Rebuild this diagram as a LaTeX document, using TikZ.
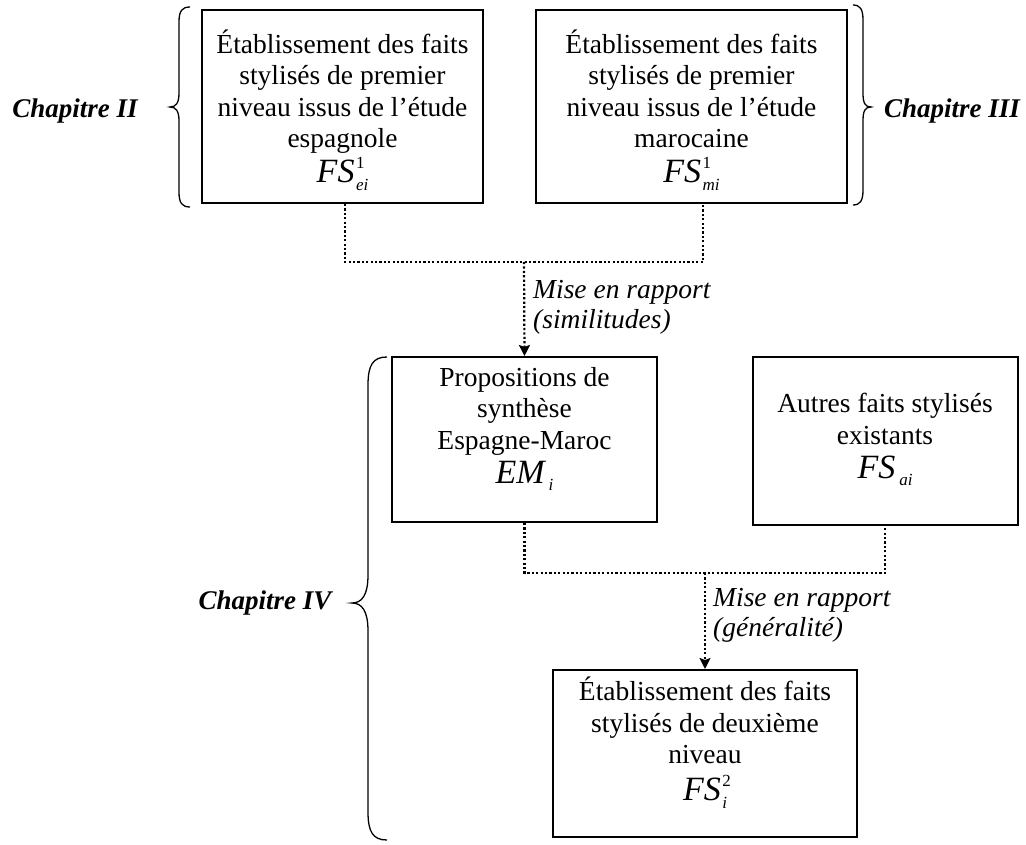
\documentclass[tikz,border=0pt]{standalone}
\usepackage{fontspec}
\setmainfont{Liberation Serif}
\usetikzlibrary{arrows.meta}
\newcommand\mfs[3]{{\fontsize{34}{34}\selectfont\itshape #1}\kern1.5pt\rlap{\raisebox{14pt}{\fontsize{17}{17}\selectfont #2}}\raisebox{-8pt}{\fontsize{17}{17}\selectfont\itshape #3}}
\newcommand\msub[2]{{\fontsize{34}{34}\selectfont\itshape #1}\kern4pt\raisebox{-7pt}{\fontsize{17}{17}\selectfont\itshape #2}}
\newcommand\topstrut{\rule{0pt}{31pt}}
\newcommand\botstrut[1]{\rule[-#1]{0pt}{1pt}}
\tikzset{
  box/.style={draw, line width=2pt, align=center, inner sep=0pt,
    font=\fontsize{27.5}{31.5}\selectfont},
  dotline/.style={line width=2.2pt, dash pattern=on 2.2pt off 2.2pt},
  dotarrow/.style={dotline, -{Stealth[length=11pt,width=11pt,inset=2pt]}},
  chap/.style={font=\fontsize{27}{31.5}\selectfont\bfseries\itshape, inner sep=0pt},
  lab/.style={font=\fontsize{27.5}{30}\selectfont\itshape, align=left, anchor=north west, inner sep=0pt},
  brace/.style={line width=1.3pt}
}
\begin{document}
\begin{tikzpicture}[x=1pt,y=-1pt]
\useasboundingbox (0,0) rectangle (1026,845);
% boxes
\node[box, minimum width=281pt, minimum height=193pt] (b1) at (342.5,106.5)
  {\topstrut Établissement des faits\\stylisés de premier\\niveau issus de l’étude\\espagnole\\[3pt]\mfs{FS}{1}{ei}};
\node[box, minimum width=311pt, minimum height=193pt] (b2) at (691.5,106.5)
  {\topstrut Établissement des faits\\stylisés de premier\\niveau issus de l’étude\\marocaine\\[3pt]\mfs{FS}{1}{mi}};
\node[box, minimum width=265pt, minimum height=165pt] (b3) at (524.5,439.5)
  {Propositions de\\synthèse\\Espagne-Maroc\\[3pt]\msub{EM}{i}\botstrut{28pt}};
\node[box, minimum width=265pt, minimum height=168pt] (b4) at (885,441)
  {Autres faits stylisés\\existants\\[3pt]\msub{FS}{ai}\botstrut{10pt}};
\node[box, minimum width=304pt, minimum height=167pt] (b5) at (705,753.5)
  {Établissement des faits\\stylisés de deuxième\\niveau\\[5pt]\mfs{FS}{2}{i}\botstrut{30pt}};
% chapter labels
\node[chap] (c2) at (75,111) {Chapitre II};
\node[chap] (c3) at (952,111) {Chapitre III};
\node[chap] (c4) at (265,603) {Chapitre IV};
% braces
\draw[brace] (190,7) .. controls (182,7) and (179,11) .. (179,22) -- (179,93) .. controls (179,103) and (176,107) .. (170,107) .. controls (176,107) and (179,111) .. (179,121) -- (179,192) .. controls (179,203) and (182,207) .. (190,207);
\draw[brace] (853,5) .. controls (860,5) and (863,9) .. (863,20) -- (863,93) .. controls (863,103) and (865,107) .. (871,107) .. controls (865,107) and (863,111) .. (863,121) -- (863,190) .. controls (863,201) and (860,205) .. (853,205);
\draw[brace] (387,357) .. controls (373,357) and (368,365) .. (368,385) -- (368,575) .. controls (368,595) and (362,603) .. (352,603) .. controls (362,603) and (368,611) .. (368,631) -- (368,812) .. controls (368,832) and (373,840) .. (387,840);
% connectors
\coordinate (j1) at (524,262);
\coordinate (j2) at (705,573);
\draw[dotline] (b1.south -| 345,0) |- (j1) -| (b2.south -| 703,0);
\draw[dotarrow] (j1) -- (b3.north);
\draw[dotline] (b3.south) |- (j2) -| (b4.south);
\draw[dotarrow] (j2) -- (b5.north);
% labels
\node[lab] (l1) at (533,280) {Mise en rapport\\(similitudes)};
\node[lab] (l2) at (713,588) {Mise en rapport\\(généralité)};
\end{tikzpicture}
\end{document}
